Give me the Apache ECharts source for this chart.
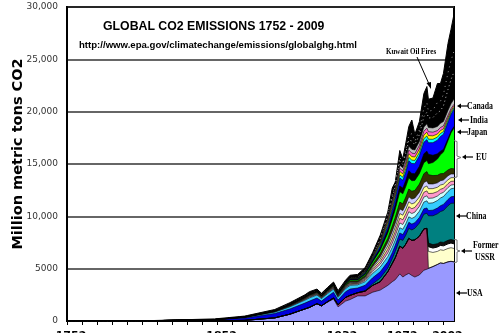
<!DOCTYPE html>
<html><head><meta charset="utf-8">
<script src="https://cdn.jsdelivr.net/npm/echarts@6/dist/echarts.min.js"></script>
<style>html,body{margin:0;padding:0;background:#fff}#c{width:500px;height:333px}</style>
</head><body><div id="c"></div>
<script>
// ---- data (million metric tons CO2) ----
const years = [1752,1800,1850,1870,1890,1900,1910,1913,1918,1921,1925,1929,1932,1937,1940,1945,1950,1955,1960,1965,1968,1970,1973,1975,1977,1979,1981,1983,1986,1989,1991,1992,1995,1998,2000,2002,2005,2007,2009];

const usa     = [0,0,20,60,300,650,1150,1300,1650,1450, 1800,2100,1350,1900,2050,2400,2400,2750,2950,3400, 3750,3950,4500,4200,4400,4550,4350,4200,4400,4850, 4950,5050,5200,5400,5550,5500,5650,5700,5650];
const ussr    = [0,0,0,0,0,0,0,0,0,0, 40,100,200,350,400,300,450,650,800,1300, 1750,2100,2650,2750,2950,3350,3350,3550,3700,3950, 3900,0,0,0,0,0,0,0,0];
const russia  = [0,0,0,0,0,0,0,0,0,0, 0,0,0,0,0,0,0,0,0,0, 0,0,0,0,0,0,0,0,0,0, 0,1600,1350,1250,1250,1250,1280,1300,1280];
const fsuWhite= [0,0,0,0,0,0,0,0,0,0, 0,0,0,0,0,0,0,0,0,0, 0,0,0,0,0,0,0,0,0,0, 0,450,420,420,420,430,440,450,440];
const fsuDark = [0,0,0,0,0,0,0,0,0,0, 0,0,0,0,0,0,0,0,0,0, 0,0,0,0,0,0,0,0,0,0, 0,350,330,320,330,330,340,340,340];
const china   = [0,0,0,0,0,0,0,0,0,0, 0,0,0,0,0,0,60,150,350,350, 450,600,680,750,850,950,1000,1100,1250,1400, 1450,2600,2750,2850,2900,3050,3300,3450,3550];
const blueA   = [0,5,90,220,420,500,560,600,550,450, 500,550,450,550,600,450,500,580,600,600, 580,580,580,560,570,580,560,540,540,520, 500,500,540,550,560,580,600,620,650];
const cyanA   = [0,2,20,60,130,200,280,300,280,240, 270,300,260,300,350,300,350,420,460,500, 500,500,500,500,520,520,540,550,600,650, 680,700,700,720,740,750,760,770,780];
const pastel1 = [0,0,5,15,30,50,60,70,70,60, 70,80,70,80,90,80,120,180,260,350, 400,420,460,460,470,490,470,460,460,470, 480,470,460,430,420,400,380,360,340];
const pastel2 = [0,0,0,10,25,40,50,60,60,50, 60,70,60,70,80,70,110,170,250,340, 390,410,450,450,460,480,460,450,450,460, 470,460,450,420,410,390,370,350,330];
const pastel3 = [0,0,0,5,20,30,40,50,50,40, 50,60,50,60,70,60,100,160,240,330, 380,400,450,440,460,470,460,450,450,460, 470,460,450,420,410,390,370,350,340];
const pastel4 = [0,0,0,0,10,20,30,40,40,30, 40,50,40,50,60,50,90,150,230,320, 370,400,440,440,460,470,460,450,450,470, 480,460,440,420,410,400,380,360,340];
const darkBand= [0,0,5,15,30,50,70,80,80,70, 80,100,90,110,130,120,160,220,300,400, 500,550,650,650,700,750,750,730,780,850, 900,880,800,720,680,620,560,520,500];
const green   = [0,0,0,0,0,5,10,15,20,20, 30,40,40,60,80,80,120,200,320,500, 650,750,1000,950,1000,1050,1000,950,1000,1050, 1050,1050,1250,1550,1800,2050,2800,3400,3900];
const black1  = [0,0,0,0,10,20,30,30,30,30, 30,40,40,50,60,60,80,120,180,300, 400,450,550,550,600,700,700,650,700,850, 900,900,700,500,350,250,200,150,150];
const blueB   = [0,0,0,0,0,5,10,10,10,10, 15,20,20,30,40,40,80,120,200,350, 450,550,750,750,800,950,950,950,1000,1100, 1100,1100,1200,1300,1400,1450,1550,1600,1650];
const cyanB   = [0,0,0,0,0,5,10,10,10,10, 15,20,20,30,40,40,60,90,140,200, 230,250,300,290,300,330,320,310,320,340, 350,340,320,300,280,260,220,180,150];
const yellow  = [0,0,0,0,0,5,10,10,10,10, 15,20,20,30,40,40,60,90,140,220, 260,280,330,320,330,350,340,330,340,350, 360,350,330,300,280,260,220,180,150];
const magenta = [0,0,0,0,0,0,5,5,5,5, 10,10,10,20,30,30,50,80,120,180, 220,240,300,290,310,340,330,320,340,360, 380,370,350,320,300,280,240,200,170];
const grey    = [0,0,0,0,0,0,0,0,0,0, 0,0,0,0,0,0,30,60,100,180, 220,250,300,300,330,360,360,350,370,400, 420,400,400,400,400,420,450,480,500];
const restA   = [0,0,0,0,0,0,0,0,0,0, 0,0,0,0,0,0,0,0,100,120, 300,200,400,300,500,600,800,500,650,1000, 1100,900,1000,1300,1200,1500,2000,2300,2600];
const restB   = [0,0,0,0,0,0,0,0,0,0, 0,0,0,0,0,0,0,0,150,150, 300,150,350,200,350,450,700,350,450,800, 900,650,700,1000,900,1100,1600,1800,2000];
const restC   = [0,3,60,85,125,170,185,220,185,175, 175,160,180,210,250,330,280,350,310,310, 600,250,650,350,650,850,1300,650,800,1400, 1560,1150,1160,1800,1700,2000,2800,3000,3500];

const yTickValues = [0,5000,10000,15000,20000,25000,30000];
const yTickLabels = ['0','5000','10,000','15,000','20,000','25,000','30,000'];
const xLabelYears = [1752,1852,1932,1972,2002];
const xTickYears  = [1752,1762,1772,1782,1792,1802,1812,1822,1832,1842,1852,1862,1872,1882,1892,1902,1912,1922,1932,1942,1952,1962,1972,1982,1992,2002];

// ---- layers, bottom to top ----
const layers = [
  {name:'USA', data:usa, color:'#9999ff'},
  {name:'Former USSR', data:ussr, color:'#993366'},
  {name:'Russia', data:russia, color:'#ffffcc'},
  {name:'Other FSU', data:fsuWhite, color:'#ffffff', lw:1},
  {name:'Other FSU 2', data:fsuDark, color:'#111111'},
  {name:'China', data:china, color:'#008080'},
  {name:'Blue A', data:blueA, color:'#0000dd'},
  {name:'Cyan A', data:cyanA, color:'#33ccff'},
  {name:'Pastel 1', data:pastel1, color:'#ccffff'},
  {name:'Pastel 2', data:pastel2, color:'#ff99cc'},
  {name:'Pastel 3', data:pastel3, color:'#ffff99'},
  {name:'Pastel 4', data:pastel4, color:'#ccccff'},
  {name:'Dark', data:darkBand, color:'#333300'},
  {name:'Green', data:green, color:'#00ff00'},
  {name:'Black', data:black1, color:'#000000'},
  {name:'Blue B', data:blueB, color:'#0000ff'},
  {name:'Cyan B', data:cyanB, color:'#00ffff'},
  {name:'Yellow', data:yellow, color:'#ffff00'},
  {name:'Magenta', data:magenta, color:'#ff66cc'},
  {name:'Grey', data:grey, color:'#c0c0c0'},
  {name:'Rest A', data:restA, color:'#000000', line:'#bbbbbb', ltype:[1,3], lw:1},
  {name:'Rest B', data:restB, color:'#000000', line:'#999999', ltype:[1,4], lw:1},
  {name:'Rest C', data:restC, color:'#000000', lw:1}
];

// stacked table: running totals of the layers (each area is filled down to 0,
// drawn top layer first so every lower layer covers the part below its own top)
const running = years.map(() => 0);
const stackedTops = layers.map(l => l.data.map((v, i) => (running[i] += v)));

const chart = echarts.init(document.getElementById('c'), null, {renderer:'canvas'});

const series = layers.map((l, k) => ({
  name: l.name, type: 'line', symbol: 'none', silent: true,
  data: years.map((y, i) => [y, stackedTops[k][i]]),
  lineStyle: {color: l.line || '#000', width: l.lw || 0.6, type: l.ltype || 'solid'},
  areaStyle: {color: l.color, opacity: 1, origin: 'start'},
  emphasis: {disabled: true}
})).reverse();

const labelFont = {fontFamily: 'Liberation Serif', fontWeight: 'bold', fontSize: 10, fill: '#000'};
function arrow(x, y) {
  return [
    {type:'line', shape:{x1:x+3, y1:y, x2:x+11, y2:y}, style:{stroke:'#000', lineWidth:1.2}, silent:true},
    {type:'polygon', shape:{points:[[x,y],[x+4,y-2.5],[x+4,y+2.5]]}, style:{fill:'#000'}, silent:true}
  ];
}
function label(text, x, y) {
  return {type:'text', x:x, y:y, scaleX:0.78, style:Object.assign({text:text, verticalAlign:'middle'}, labelFont), silent:true};
}
const graphics = [
  {type:'text', left:103, top:21, z:100, style:{text:'GLOBAL CO2 EMISSIONS 1752 - 2009', fontFamily:'Liberation Sans', fontWeight:'bold', fontSize:12.3, fill:'#000'}},
  {type:'text', left:79, top:40, z:100, style:{text:'http://www.epa.gov/climatechange/emissions/globalghg.html', fontFamily:'Liberation Sans', fontWeight:'bold', fontSize:9.6, fill:'#000'}},
  {type:'text', x:386, y:52, scaleX:0.78, z:100, style:{text:'Kuwait Oil Fires', fontFamily:'Liberation Serif', fontWeight:'bold', fontSize:9, fill:'#000', verticalAlign:'middle'}},
  {type:'line', shape:{x1:417, y1:57, x2:429, y2:84}, z:100, style:{stroke:'#000', lineWidth:1}},
  {type:'polygon', shape:{points:[[431,89],[426.5,83],[431,82]]}, z:100, style:{fill:'#000'}},
  ...arrow(457,106), label('Canada',467,106),
  ...arrow(458,120), label('India',470,120),
  ...arrow(457,132), label('Japan',467,132),
  {type:'polyline', shape:{points:[[452,140],[457,141.5],[457,156],[461,157.5],[457,159],[457,177],[452,178]]}, style:{stroke:'#777', lineWidth:1, fill:null}},
  ...arrow(462,157), label('EU',476,157),
  ...arrow(456,216), label('China',466,216),
  {type:'polyline', shape:{points:[[453,239],[457,240],[457,250],[460,251],[457,252],[457,262],[453,263]]}, style:{stroke:'#777', lineWidth:1, fill:null}},
  ...arrow(461,251), label('Former',473,245), label('USSR',475,257),
  ...arrow(456,293), label('USA',467,293)
];

chart.setOption({
  animation: false,
  backgroundColor: '#fff',
  grid: {left:67, right:46, top:7, bottom:12, outerBoundsMode:'none', containLabel:false,
         show:true, borderColor:'#000', borderWidth:2, backgroundColor:'transparent'},
  xAxis: {
    type:'value', min:1752, max:2009,
    axisLine:{show:true, onZero:false, lineStyle:{color:'#000', width:2}},
    axisTick:{show:true, customValues:xTickYears, length:4, lineStyle:{color:'#000', width:1}},
    axisLabel:{customValues:xLabelYears, margin:10, color:'#000', fontFamily:'DejaVu Sans', fontWeight:'bold', fontSize:11, verticalAlign:'top',
      padding:[0,0,0,8], formatter:function(v){ return String(v); }},
    splitLine:{show:false}
  },
  yAxis: {
    type:'value', min:0, max:30000, interval:5000,
    name:'Million metric tons CO2', nameLocation:'middle', nameGap:41, nameRotate:90, nameMoveOverlap:false,
    nameTextStyle:{fontFamily:'DejaVu Sans', fontWeight:'bold', fontSize:14.5, color:'#000', padding:[0,0,0,20]},
    axisLine:{show:true, lineStyle:{color:'#000', width:2}},
    axisTick:{show:false},
    axisLabel:{margin:9, color:'#333', fontFamily:'DejaVu Sans', fontSize:9, padding:[0,0,9,0],
      formatter:function(v){ const i = yTickValues.indexOf(v); return i >= 0 ? yTickLabels[i] : ''; }},
    splitLine:{show:true, lineStyle:{color:'#333', width:1.5}}
  },
  series: series,
  graphic: graphics
});
</script></body></html>
